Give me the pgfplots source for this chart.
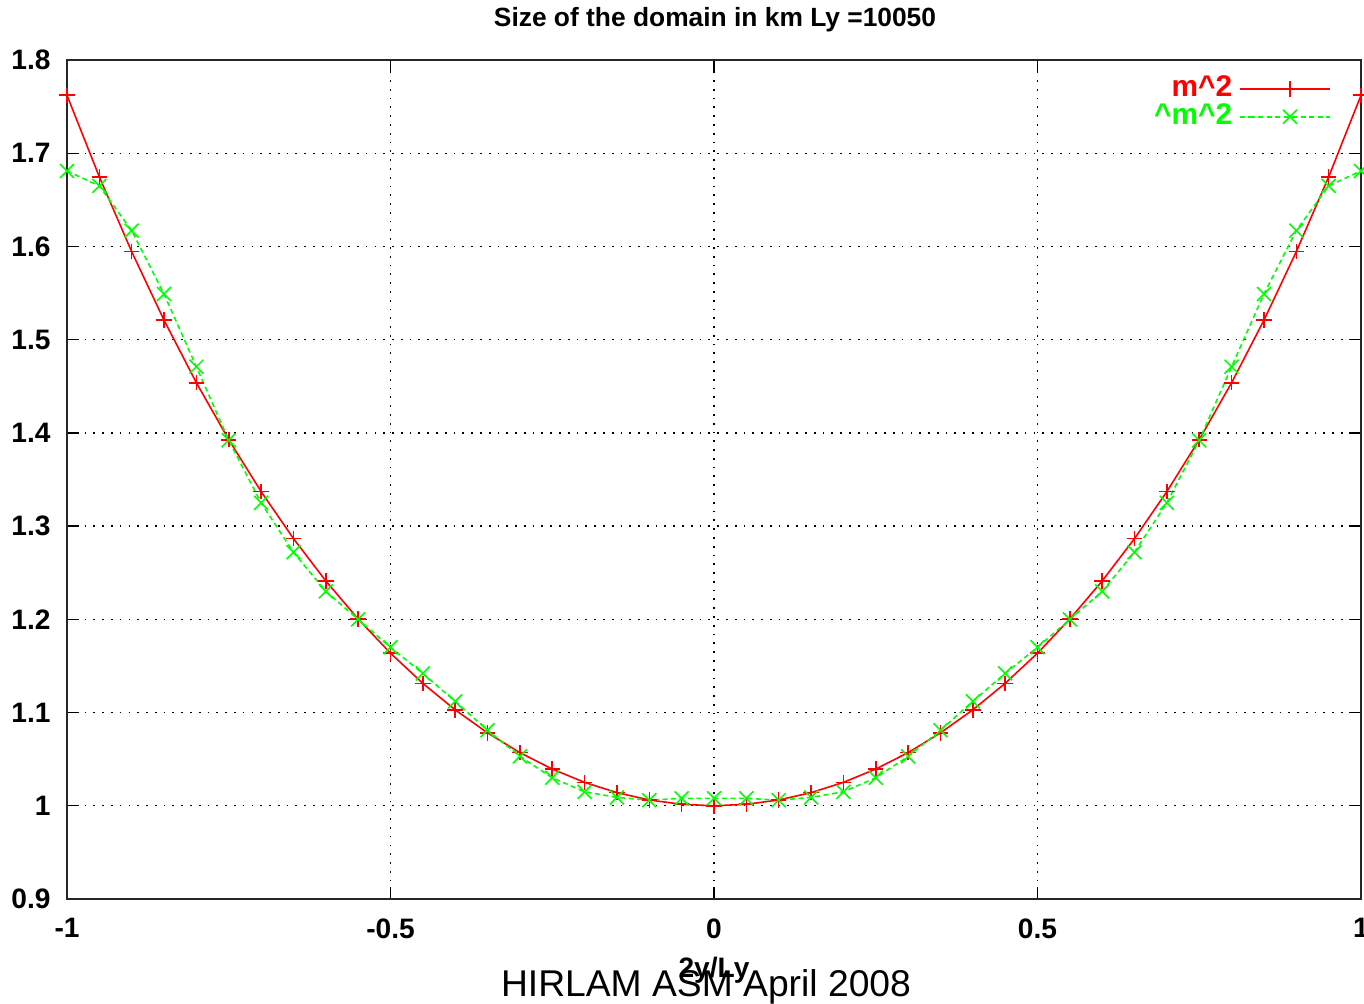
\documentclass[border=0pt]{standalone}
\usepackage{fontspec}
\setmainfont{Liberation Sans}
\usepackage{pgfplots}
\pgfplotsset{compat=1.18}
\begin{document}
\begin{tikzpicture}
\begin{axis}[
  scale only axis, width=12.94cm, height=8.39cm,
  xmin=-1, xmax=1, ymin=0.9, ymax=1.8,
  xtick={-1,-0.5,0,0.5,1}, xticklabels={-1,-0.5,0,0.5,1},
  ytick={0.9,1,1.1,1.2,1.3,1.4,1.5,1.6,1.7,1.8},
  yticklabels={0.9,1,1.1,1.2,1.3,1.4,1.5,1.6,1.7,1.8},
  tick align=inside, major tick length=0.12cm,
  grid=major, grid style={black, line width=0.4pt, dash pattern=on 0.5pt off 2pt},
  axis line style={black!85, line width=0.5pt},
  tick style={black, line width=0.4pt},
  ticklabel style={font=\fontsize{8}{9}\selectfont\bfseries},
  yticklabel style={xshift=-0.04cm},
  xticklabel style={yshift=-0.07cm},
  legend style={at={(axis description cs:1,1)}, anchor=north east,
    xshift=-0.19cm, yshift=-0.01cm, draw=none, fill=none,
    font=\fontsize{8.5}{9}\selectfont\bfseries, row sep=-3.5pt},
  legend plot pos=right, legend cell align=right,
  legend image code/.code={\path (0cm,0cm) -- (0.1cm,0cm);
    \draw[mark repeat=2,mark phase=2,#1] plot coordinates {(0.1cm,0cm) (0.5cm,0cm) (0.9cm,0cm)};},
]
\addplot[red, line width=0.45pt, mark=+, mark size=2.2pt, mark options={solid}] coordinates {
(-1,1.7622) (-0.95,1.6746) (-0.9,1.5944) (-0.85,1.5209) (-0.8,1.4538) (-0.75,1.3927)
(-0.7,1.3371) (-0.65,1.2867) (-0.6,1.2412) (-0.55,1.2003) (-0.5,1.1637) (-0.45,1.1313)
(-0.4,1.1029) (-0.35,1.0782) (-0.3,1.0570) (-0.25,1.0394) (-0.2,1.0251) (-0.15,1.0141)
(-0.1,1.0062) (-0.05,1.0016) (0,1.0000)
(0.05,1.0016) (0.1,1.0062) (0.15,1.0141) (0.2,1.0251) (0.25,1.0394) (0.3,1.0570)
(0.35,1.0782) (0.4,1.1029) (0.45,1.1313) (0.5,1.1637) (0.55,1.2003) (0.6,1.2412)
(0.65,1.2867) (0.7,1.3371) (0.75,1.3927) (0.8,1.4538) (0.85,1.5209) (0.9,1.5944)
(0.95,1.6746) (1,1.7622)
};
\addplot[green, line width=0.45pt, dash pattern=on 0.05cm off 0.035cm, mark=x, mark size=2.8pt, mark options={solid}] coordinates {
(-1,1.681) (-0.95,1.665) (-0.9,1.617) (-0.85,1.549) (-0.8,1.471) (-0.75,1.392)
(-0.7,1.325) (-0.65,1.272) (-0.6,1.230) (-0.55,1.200) (-0.5,1.170) (-0.45,1.142)
(-0.4,1.112) (-0.35,1.081) (-0.3,1.053) (-0.25,1.030) (-0.2,1.015) (-0.15,1.009)
(-0.1,1.006) (-0.05,1.008) (0,1.008)
(0.05,1.008) (0.1,1.006) (0.15,1.009) (0.2,1.015) (0.25,1.030) (0.3,1.053)
(0.35,1.081) (0.4,1.112) (0.45,1.142) (0.5,1.170) (0.55,1.200) (0.6,1.230)
(0.65,1.272) (0.7,1.325) (0.75,1.392) (0.8,1.471) (0.85,1.549) (0.9,1.617)
(0.95,1.665) (1,1.681)
};
\legend{\textcolor{red}{m\textasciicircum 2}, \textcolor{green}{\textasciicircum m\textasciicircum 2}}
\end{axis}
\node[anchor=base, font=\fontsize{7.5}{9}\selectfont\bfseries] at (6.48,8.72) {Size of the domain in km Ly =10050};
\node[anchor=base, font=\fontsize{8}{9}\selectfont\bfseries] at (6.47,-0.79) {2y/Ly};
\node[anchor=base, font=\fontsize{10.6}{13}\selectfont] at (6.39,-0.98) {HIRLAM ASM April 2008};
\pgfresetboundingbox
\path (-0.67,-1.05) rectangle (12.97,8.99);
\end{tikzpicture}
\end{document}
